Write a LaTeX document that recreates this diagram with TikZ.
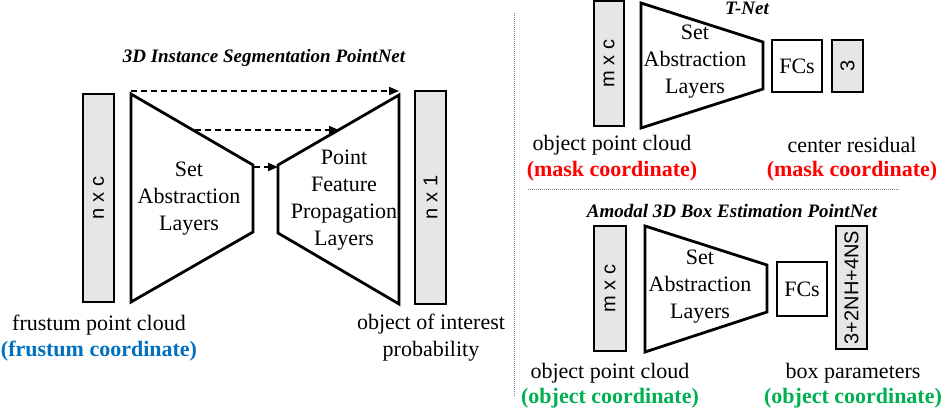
\documentclass[tikz,border=0pt]{standalone}
\usepackage{fontspec}
\setmainfont{Liberation Serif}
\setsansfont{Liberation Sans}
\usetikzlibrary{arrows.meta,calc}
\definecolor{boxgray}{HTML}{E6E6E6}
\definecolor{fblue}{HTML}{0070C0}
\definecolor{mred}{HTML}{FF0000}
\definecolor{ogreen}{HTML}{00B050}
\begin{document}
\begin{tikzpicture}[x=1pt,y=-1pt,
  graybox/.style={draw=black,line width=2pt,fill=boxgray,rotate=90,inner sep=0pt,
    font=\sffamily\fontsize{20}{24}\selectfont},
  trap/.style={draw=black,line width=2.8pt,line join=miter},
  fcbox/.style={draw=black,line width=2.8pt,inner sep=0pt,font=\fontsize{22}{27}\selectfont},
  lbl/.style={inner sep=0pt,align=center,font=\fontsize{22}{27}\selectfont},
  coordlbl/.style={inner sep=0pt,font=\bfseries\fontsize{22}{27}\selectfont},
  ttl/.style={inner sep=0pt,font=\bfseries\itshape\fontsize{19}{22}\selectfont},
  skip/.style={dash pattern=on 6pt off 4pt,line width=1.8pt,-{Triangle[length=10pt,width=8pt]}},
  sep/.style={draw=gray,line width=0.8pt,dash pattern=on 1pt off 1pt}
]
\useasboundingbox (0,0) rectangle (944,412);

% ---------- left: 3D Instance Segmentation PointNet ----------
\node[ttl] (t1) at (264,58) {3D Instance Segmentation PointNet};
\node[graybox,minimum width=208,minimum height=31] (nxc) at (98.5,198) {n x c};
\node[graybox,minimum width=213,minimum height=31] (nx1) at (430.5,197.5) {n x 1};

\coordinate (sa1) at (131,94);
\coordinate (sa2) at (253,165);
\coordinate (sa3) at (253,232);
\coordinate (sa4) at (131,302);
\draw[trap] (sa1) -- (sa2) -- (sa3) -- (sa4) -- cycle;
\node[lbl] (satext) at (189,199) {Set\\Abstraction\\Layers};

\coordinate (fp1) at (278,165);
\coordinate (fp2) at (399,95);
\coordinate (fp3) at (399,304);
\coordinate (fp4) at (278,233);
\draw[trap] (fp1) -- (fp2) -- (fp3) -- (fp4) -- cycle;
\node[lbl] (fptext) at (344,200) {Point\\Feature\\Propagation\\Layers};

\coordinate (a1s) at (131,91);
\coordinate (a1e) at (399,91);
\coordinate (a2s) at (195,130);
\coordinate (a2e) at (339,130);
\coordinate (a3s) at (254,167);
\coordinate (a3e) at (278,167);
\draw[skip] (a1s) -- (a1e);
\draw[skip] (a2s) -- (a2e);
\draw[skip] (a3s) -- (a3e);

\node[lbl] (fpc) at (99,325) {frustum point cloud};
\node[coordlbl,text=fblue] (fpcc) at (99,351) {(frustum coordinate)};
\node[lbl] (ooi) at (431,338) {object of interest\\probability};

% ---------- separators ----------
\coordinate (vs1) at (514,13);
\coordinate (vs2) at (514,397);
\draw[sep] (vs1) -- (vs2);
\coordinate (hs1) at (528,189);
\coordinate (hs2) at (900,189);
\draw[sep] (hs1) -- (hs2);

% ---------- top right: T-Net ----------
\node[ttl] (t2) at (747,8) {T-Net};
\node[graybox,minimum width=125,minimum height=30] (mxc1) at (609,63.5) {m x c};
\coordinate (tb1) at (641,3);
\coordinate (tb2) at (763,42);
\coordinate (tb3) at (763,89);
\coordinate (tb4) at (641,128);
\draw[trap] (tb1) -- (tb2) -- (tb3) -- (tb4) -- cycle;
\node[lbl] (tsa) at (695,62) {Set\\Abstraction\\Layers};
\node[fcbox,minimum width=50,minimum height=52] (fc1) at (797,66) {FCs};
\node[graybox,minimum width=52,minimum height=31] (three) at (847.5,66) {3};
\node[lbl] (opc1) at (612,145) {object point cloud};
\node[coordlbl,text=mred] (opc1c) at (612,171) {(mask coordinate)};
\node[lbl] (cres) at (852,145) {center residual};
\node[coordlbl,text=mred] (cresc) at (852,171) {(mask coordinate)};

% ---------- bottom right: Amodal 3D Box Estimation PointNet ----------
\node[ttl] (t3) at (732,211) {Amodal 3D Box Estimation PointNet};
\node[graybox,minimum width=125,minimum height=32] (mxc2) at (610,288.5) {m x c};
\coordinate (bb1) at (645,226);
\coordinate (bb2) at (767,265);
\coordinate (bb3) at (767,312);
\coordinate (bb4) at (645,352);
\draw[trap] (bb1) -- (bb2) -- (bb3) -- (bb4) -- cycle;
\node[lbl] (bsa) at (700,287) {Set\\Abstraction\\Layers};
\node[fcbox,minimum width=50,minimum height=54] (fc2) at (802,289) {FCs};
\node[graybox,minimum width=123,minimum height=31] (bpar) at (851.5,287.5) {3+2NH+4NS};
\node[lbl] (opc2) at (610,373) {object point cloud};
\node[coordlbl,text=ogreen] (opc2c) at (610,398) {(object coordinate)};
\node[lbl] (bparl) at (853,373) {box parameters};
\node[coordlbl,text=ogreen] (bparc) at (853,398) {(object coordinate)};
\end{tikzpicture}
\end{document}
